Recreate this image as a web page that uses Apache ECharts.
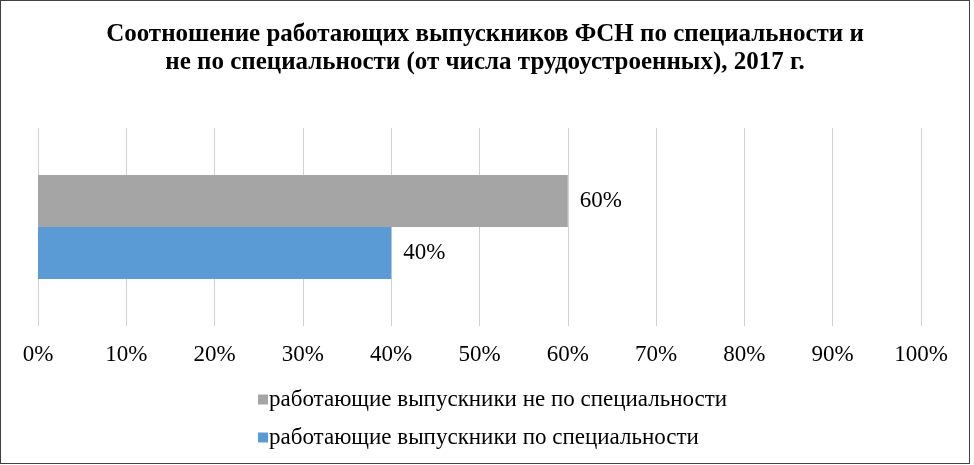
<!DOCTYPE html>
<html>
<head>
<meta charset="utf-8">
<script src="https://cdn.jsdelivr.net/npm/echarts@6/dist/echarts.min.js"></script>
<style>
  html, body { margin: 0; padding: 0; background: #fff; }
  #main { width: 970px; height: 464px; box-sizing: border-box; border: 1px solid #404040; }
</style>
</head>
<body>
<div id="main"></div>
<script>
// data
let categories = ['2017'];
let nameNotSpec = 'работающие выпускники не по специальности';
let nameSpec = 'работающие выпускники по специальности';
let valuesNotSpec = [60];
let valuesSpec = [40];
let xTicks = [0, 10, 20, 30, 40, 50, 60, 70, 80, 90, 100];

let font = '"Liberation Serif", "Times New Roman", serif';

var chart = echarts.init(document.getElementById('main'));

var option = {
    animation: false,
    title: {
        text: 'Соотношение работающих выпускников ФСН по специальности и\nне по специальности (от числа трудоустроенных), 2017 г.',
        left: 'center',
        top: 15,
        textStyle: {
            fontFamily: font,
            fontWeight: 'bold',
            fontSize: 25,
            lineHeight: 28,
            color: '#000'
        }
    },
    legend: {
        orient: 'vertical',
        left: 252,
        top: 382,
        itemWidth: 10,
        itemHeight: 10,
        itemGap: 15,
        icon: 'rect',
        data: [nameNotSpec, nameSpec],
        textStyle: { fontFamily: font, fontSize: 23, color: '#000', padding: [0, 0, 0, -4] }
    },
    grid: { left: 37, right: 48, top: 127, bottom: 137, containLabel: false },
    xAxis: {
        type: 'value',
        min: xTicks[0],
        max: xTicks[xTicks.length - 1],
        interval: 10,
        axisLine: { show: false },
        axisTick: { show: false },
        splitLine: { lineStyle: { color: '#d0d0d0', width: 1 } },
        axisLabel: {
            margin: 17,
            fontFamily: font,
            fontSize: 23,
            color: '#000',
            formatter: '{value}%'
        }
    },
    yAxis: {
        type: 'category',
        data: categories,
        axisLine: { show: false },
        axisTick: { show: false },
        axisLabel: { show: false }
    },
    series: [
        {
            name: nameNotSpec,
            type: 'bar',
            data: valuesNotSpec,
            barWidth: 52,
            barGap: '0%',
            itemStyle: { color: '#a5a5a5' },
            label: { show: true, position: 'right', distance: 12, formatter: '{c}%', fontFamily: font, fontSize: 23, color: '#000' }
        },
        {
            name: nameSpec,
            type: 'bar',
            data: valuesSpec,
            barWidth: 52,
            barGap: '0%',
            itemStyle: { color: '#5b9bd5' },
            label: { show: true, position: 'right', distance: 12, formatter: '{c}%', fontFamily: font, fontSize: 23, color: '#000' }
        }
    ]
};

chart.setOption(option);
</script>
</body>
</html>
